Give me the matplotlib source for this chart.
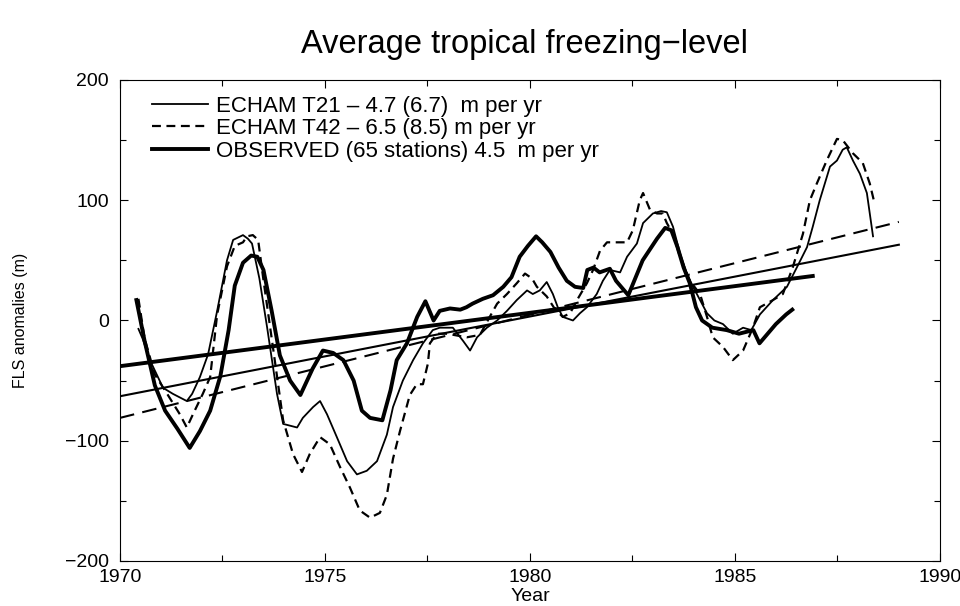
import matplotlib
matplotlib.use("Agg")
import matplotlib.pyplot as plt
from matplotlib.ticker import MultipleLocator
import numpy as np

# Observed (65 stations), thick solid
obs_year = [1970.40, 1970.60, 1970.85, 1971.10, 1971.40, 1971.70, 1971.95, 1972.20, 1972.45, 1972.65,
            1972.80, 1973.00, 1973.20, 1973.35, 1973.50, 1973.70, 1973.90, 1974.15, 1974.40, 1974.70,
            1974.95, 1975.20, 1975.45, 1975.70, 1975.90, 1976.10, 1976.40, 1976.60, 1976.75, 1977.00,
            1977.25, 1977.45, 1977.65, 1977.80, 1978.05, 1978.30, 1978.45, 1978.60, 1978.85, 1979.10,
            1979.35, 1979.55, 1979.75, 1979.95, 1980.15, 1980.30, 1980.50, 1980.70, 1980.90, 1981.10,
            1981.30, 1981.40, 1981.55, 1981.70, 1981.95, 1982.10, 1982.40, 1982.75, 1983.10, 1983.30,
            1983.45, 1983.60, 1983.75, 1983.90, 1984.05, 1984.20, 1984.45, 1984.80, 1985.10, 1985.45,
            1985.60, 1985.80, 1986.00, 1986.25, 1986.40]
obs_val = [17, -17, -54, -75, -90, -106, -92, -75, -46, -8,
           29, 48, 54, 53, 42, 8, -29, -50, -62, -40,
           -25, -27, -33, -50, -75, -81, -83, -58, -33, -19,
           3, 16, 0, 8, 10, 9, 11, 14, 18, 21,
           28, 36, 53, 62, 70, 65, 57, 44, 33, 28,
           27, 42, 44, 40, 43, 33, 21, 50, 68, 77,
           75, 61, 44, 31, 11, 0, -6, -8, -11, -8,
           -19, -11, -3, 5, 9]

# ECHAM T21, thin solid
t21_year = [1970.45, 1970.55, 1970.73, 1971.05, 1971.29, 1971.63, 1971.76, 1971.95, 1972.15, 1972.37,
            1972.61, 1972.76, 1973.00, 1973.12, 1973.22, 1973.40, 1973.59, 1973.83, 1973.98, 1974.32,
            1974.46, 1974.71, 1974.88, 1975.05, 1975.29, 1975.54, 1975.78, 1976.02, 1976.27, 1976.51,
            1976.66, 1976.90, 1977.15, 1977.39, 1977.63, 1977.80, 1978.12, 1978.37, 1978.54, 1978.71,
            1978.95, 1979.20, 1979.44, 1979.68, 1979.93, 1980.07, 1980.24, 1980.41, 1980.56, 1980.68,
            1980.80, 1981.05, 1981.22, 1981.39, 1981.63, 1981.78, 1981.95, 1982.20, 1982.37, 1982.61,
            1982.76, 1983.00, 1983.20, 1983.34, 1983.49, 1983.66, 1983.83, 1983.98, 1984.15, 1984.32,
            1984.50, 1984.71, 1984.95, 1985.20, 1985.40, 1985.61, 1985.93, 1986.27, 1986.51, 1986.76,
            1986.90, 1987.07, 1987.32, 1987.49, 1987.63, 1987.73, 1987.88, 1988.05, 1988.22, 1988.37]
t21_val = [-7, -15, -33, -56, -61, -67, -61, -47, -28, 8,
           50, 67, 71, 68, 64, 35, -6, -61, -86, -89,
           -81, -72, -67, -78, -97, -117, -128, -125, -117, -95,
           -72, -50, -33, -19, -8, -6, -6, -17, -25, -14,
           -6, 0, 8, 17, 25, 22, 25, 32, 22, 11,
           3, 0, 6, 11, 22, 33, 42, 40, 53, 64,
           81, 89, 91, 90, 78, 56, 39, 28, 17, 6,
           0, -3, -11, -6, -8, 5, 17, 28, 44, 61,
           78, 100, 128, 133, 142, 144, 133, 122, 106, 70]

# ECHAM T42, dashed
t42_year = [1970.45, 1970.60, 1970.85, 1971.15, 1971.46, 1971.63, 1971.78, 1972.02, 1972.20, 1972.37,
            1972.61, 1972.80, 1973.00, 1973.10, 1973.24, 1973.37, 1973.49, 1973.73, 1973.98, 1974.22,
            1974.44, 1974.63, 1974.88, 1975.12, 1975.37, 1975.61, 1975.85, 1976.10, 1976.34, 1976.51,
            1976.66, 1976.83, 1977.07, 1977.24, 1977.39, 1977.51, 1977.56, 1977.73, 1977.98, 1978.46,
            1978.78, 1979.02, 1979.20, 1979.44, 1979.68, 1979.88, 1980.05, 1980.17, 1980.41, 1980.60,
            1980.80, 1980.98, 1981.15, 1981.39, 1981.54, 1981.71, 1981.88, 1982.12, 1982.37, 1982.51,
            1982.68, 1982.76, 1982.93, 1983.10, 1983.24, 1983.34, 1983.49, 1983.66, 1983.90, 1984.15,
            1984.32, 1984.46, 1984.71, 1984.95, 1985.20, 1985.44, 1985.61, 1985.93, 1986.17, 1986.41,
            1986.66, 1986.83, 1987.00, 1987.24, 1987.49, 1987.63, 1987.88, 1988.12, 1988.29, 1988.41]
t42_val = [18, -15, -45, -61, -78, -89, -78, -61, -47, 5,
           45, 62, 65, 70, 71, 67, 36, -22, -83, -111,
           -126, -111, -97, -103, -122, -139, -158, -164, -160, -145,
           -115, -92, -62, -53, -53, -36, -19, -11, -11, -14,
           -12, 3, 14, 22, 31, 39, 35, 28, 20, 10,
           3, 6, 17, 31, 42, 58, 65, 65, 65, 75,
           100, 106, 92, 89, 89, 81, 72, 53, 33, 22,
           3, -14, -22, -33, -25, -6, 11, 17, 22, 44,
           72, 100, 114, 133, 151, 150, 139, 131, 114, 97]

# Linear trends: endpoints (years, values)
obs_trend_year = [1970.0, 1986.9]
obs_trend_val = [-38, 37]
t21_trend_year = [1970.0, 1989.0]
t21_trend_val = [-63, 63]
t42_trend_year = [1970.0, 1989.0]
t42_trend_val = [-81, 82]

labels = ["ECHAM T21 \u2013 4.7 (6.7)  m per yr",
          "ECHAM T42 \u2013 6.5 (8.5) m per yr",
          "OBSERVED (65 stations) 4.5  m per yr"]

FONT = ["Liberation Sans", "DejaVu Sans"]

fig = plt.figure(figsize=(9.6, 6.06), dpi=100)
ax = fig.add_axes([0.125, 0.0743, 0.854, 0.7937])

l1, = ax.plot(t21_year, t21_val, color="black", lw=1.3)
l2, = ax.plot(t42_year, t42_val, color="black", lw=1.6, dashes=(4, 2.5))
l3, = ax.plot(obs_year, obs_val, color="black", lw=2.8)
ax.plot(t21_trend_year, t21_trend_val, color="black", lw=1.5)
ax.plot(t42_trend_year, t42_trend_val, color="black", lw=1.5, dashes=(7, 4))
ax.plot(obs_trend_year, obs_trend_val, color="black", lw=2.8)

ax.set_xlim(1970, 1990)
ax.set_ylim(-200, 200)
ax.xaxis.set_major_locator(MultipleLocator(5))
ax.xaxis.set_minor_locator(MultipleLocator(2.5))
ax.yaxis.set_major_locator(MultipleLocator(100))
ax.yaxis.set_minor_locator(MultipleLocator(50))
ax.tick_params(which="both", direction="in", top=True, right=True, width=0.8)
ax.tick_params(which="major", length=6)
ax.tick_params(which="minor", length=4)
ax.tick_params(axis="x", pad=6)
ax.tick_params(axis="y", pad=8)
for lab in ax.get_xticklabels() + ax.get_yticklabels():
    lab.set_fontfamily(FONT)
    lab.set_fontsize(14)
for sp in ax.spines.values():
    sp.set_linewidth(0.8)

ax.set_xlabel("Year", fontsize=14, family=FONT, labelpad=1)
ax.set_ylabel("FLS anomalies (m)", fontsize=11.5, family=FONT)
ax.yaxis.set_label_coords(-0.112, 0.5)
fig.text(0.546, 0.926, "Average tropical freezing\u2212level", ha="center", va="center",
         fontsize=23.5, family=FONT)

leg = ax.legend([l1, l2, l3], labels, loc="upper left", bbox_to_anchor=(0.02, 1.0),
                frameon=False, handlelength=2.5, handletextpad=0.4,
                labelspacing=0.07, borderaxespad=0.3,
                prop={"family": FONT, "size": 16})

fig.savefig("out.png", dpi=100)
